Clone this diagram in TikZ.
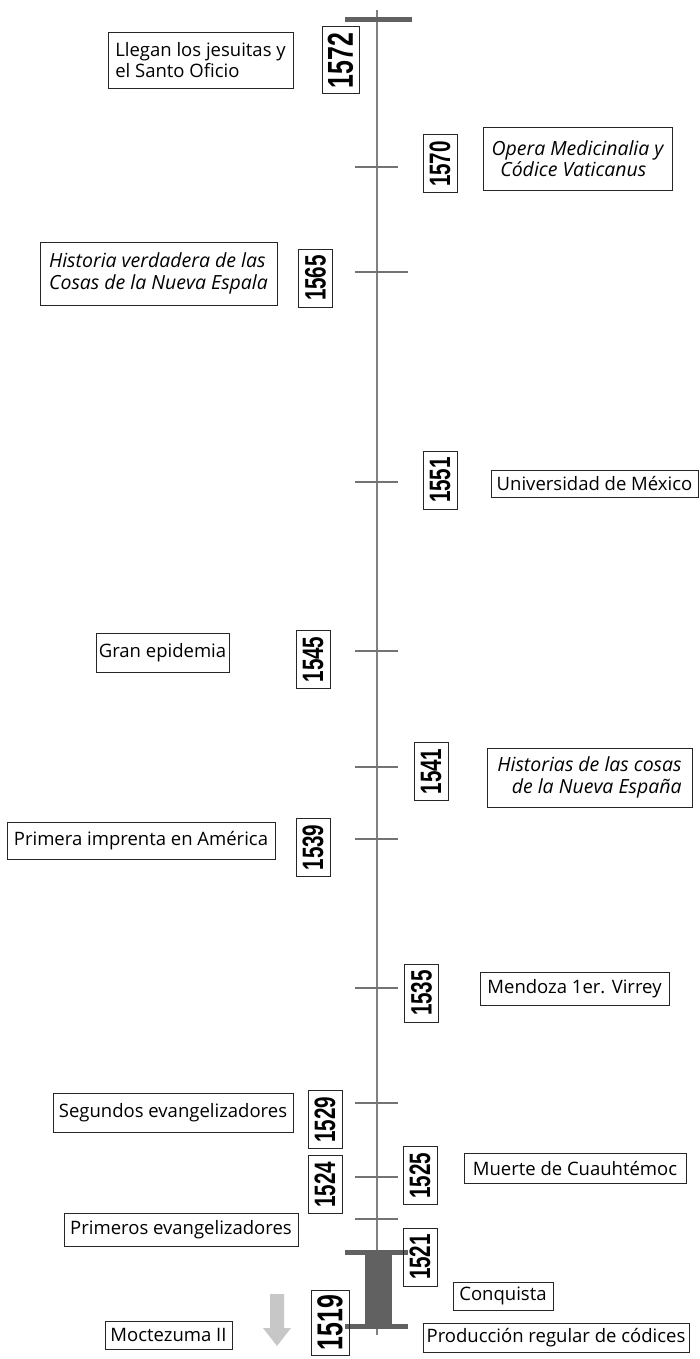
\documentclass[tikz,border=0pt]{standalone}
\usepackage{fontspec}
\setmainfont{Open Sans}
\newfontfamily\yearfont{Liberation Sans}
% year labels: bold, horizontally condensed digits
\newcommand\yeartxt[3]{\scalebox{#2}[1]{\fontsize{#1}{#1}\selectfont\yearfont\bfseries #3}}
\begin{document}
\begin{tikzpicture}[x=1pt,y=-1pt,
  evt/.style={draw=black!85, line width=0.9pt, inner sep=0pt,
    font=\fontsize{18.5}{21}\selectfont, align=left},
  evti/.style={evt, font=\fontsize{19.5}{21.5}\selectfont\itshape},
  yr/.style={draw=black!85, line width=1pt, inner sep=0pt, rotate=90,
    minimum width=58pt, minimum height=34pt},
  yrbig/.style={yr, minimum width=65pt, minimum height=38pt},
  axisline/.style={draw=black!50, line width=1.8pt},
  tick/.style={draw=black!55, line width=1.4pt},
  bar/.style={draw=black!62, line width=5pt},
]
\useasboundingbox (0,0) rectangle (700,1359);
\fill[white] (0,0) rectangle (700,1359);

% time axis
\draw[axisline] (377,10) -- (377,1335);
\draw[bar] (345,20) -- (412,20);

% year ticks
\foreach \ty in {167,482,651,767,839,988,1103,1177,1219}
  \draw[tick] (355,\ty) -- (398,\ty);
\draw[tick] (355,272) -- (408,272);

% conquest period 1519--1521
\fill[black!62] (365,1252) rectangle (392,1326);
\draw[bar] (345,1252) -- (408,1252);
\draw[bar] (345,1326) -- (408,1326);

% year labels
\node[yrbig, minimum width=67pt, minimum height=37pt] (y1572) at (340.5,60.5) {\yeartxt{36}{0.69}{1572}};
\node[yr] (y1570) at (440,164) {\yeartxt{29.5}{0.7}{1570}};
\node[yr] (y1565) at (315.5,278) {\yeartxt{29.5}{0.7}{1565}};
\node[yr] (y1551) at (440,480) {\yeartxt{29.5}{0.7}{1551}};
\node[yr] (y1545) at (313,659.5) {\yeartxt{29.5}{0.7}{1545}};
\node[yr] (y1541) at (431,771.5) {\yeartxt{29.5}{0.7}{1541}};
\node[yr] (y1539) at (313,847.5) {\yeartxt{29.5}{0.7}{1539}};
\node[yr] (y1535) at (421.5,993) {\yeartxt{29.5}{0.7}{1535}};
\node[yr] (y1529) at (325,1119.5) {\yeartxt{29.5}{0.7}{1529}};
\node[yr] (y1524) at (325,1184.5) {\yeartxt{29.5}{0.7}{1524}};
\node[yr] (y1525) at (420,1175.5) {\yeartxt{29.5}{0.7}{1525}};
\node[yr] (y1521) at (420,1257) {\yeartxt{29.5}{0.7}{1521}};
\node[yrbig] (y1519) at (330,1322.5) {\yeartxt{36}{0.69}{1519}};

% events
\node[evt, minimum width=185pt, minimum height=56pt] (jesuitas) at (200.5,60)
  {Llegan los jesuitas y\\el Santo Oficio};
\node[evti, minimum width=189pt, minimum height=63pt] (opera) at (577.5,158.5)
  {Opera Medicinalia y\\\hspace*{0.45em}Códice Vaticanus};
\node[evti, minimum width=237pt, minimum height=63pt] (historia) at (158.5,273.5)
  {Historia verdadera de las\\Cosas de la Nueva Espala};
\node[evt, minimum width=207pt, minimum height=27pt] (univ) at (594.5,483.5)
  {Universidad de México};
\node[evt, minimum width=133pt, minimum height=39pt] (epidemia) at (162.5,652.5)
  {Gran epidemia};
\node[evti, minimum width=205pt, minimum height=59pt, align=right] (historias) at (589.5,777.5)
  {Historias de las cosas\\de la Nueva España};
\node[evt, minimum width=268pt, minimum height=37pt] (imprenta) at (141,841)
  {Primera imprenta en América};
\node[evt, minimum width=189pt, minimum height=33pt] (mendoza) at (574.5,988.5)
  {Mendoza 1er. Virrey};
\node[evt, minimum width=240pt, minimum height=39pt] (segundos) at (173,1112.5)
  {Segundos evangelizadores};
\node[evt, minimum width=222pt, minimum height=30pt] (muerte) at (575,1168)
  {Muerte de Cuauhtémoc};
\node[evt, minimum width=234pt, minimum height=33pt] (primeros) at (181,1229.5)
  {Primeros evangelizadores};
\node[evt, minimum width=100pt, minimum height=28pt] (conquista) at (503,1296)
  {Conquista};
\node[evt, minimum width=266pt, minimum height=29pt] (codices) at (556,1337.5)
  {Producción regular de códices};
\node[evt, minimum width=127pt, minimum height=28pt] (moctezuma) at (168.5,1335)
  {Moctezuma II};

% earlier-period arrow
\fill[black!22] (270,1294) -- (284,1294) -- (284,1328) -- (291,1328)
  -- (277,1346) -- (263,1328) -- (270,1328) -- cycle;
\end{tikzpicture}
\end{document}
